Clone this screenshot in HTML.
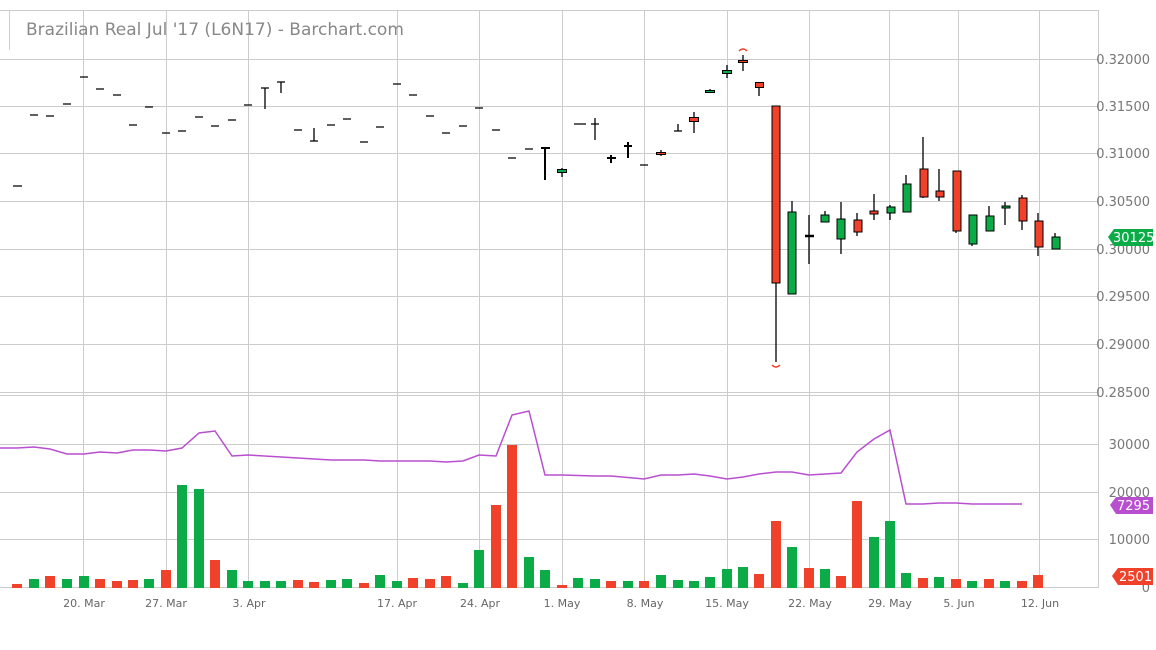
<!DOCTYPE html>
<html><head><meta charset="utf-8"><style>
html,body{margin:0;padding:0;background:#fff;}
svg{display:block;font-family:"DejaVu Sans","Liberation Sans",sans-serif;}
</style></head><body>
<svg width="1156" height="650" viewBox="0 0 1156 650" xmlns="http://www.w3.org/2000/svg">
<g stroke="#cccccc" stroke-width="1" fill="none" shape-rendering="crispEdges">
<line x1="0" y1="10.5" x2="1098" y2="10.5"/>
<line x1="0" y1="59.5" x2="1098" y2="59.5"/>
<line x1="0" y1="106.5" x2="1098" y2="106.5"/>
<line x1="0" y1="153.5" x2="1098" y2="153.5"/>
<line x1="0" y1="201.5" x2="1098" y2="201.5"/>
<line x1="0" y1="249.5" x2="1098" y2="249.5"/>
<line x1="0" y1="296.5" x2="1098" y2="296.5"/>
<line x1="0" y1="344.5" x2="1098" y2="344.5"/>
<line x1="0" y1="392.5" x2="1098" y2="392.5"/>
<line x1="0" y1="395.5" x2="1098" y2="395.5"/>
<line x1="0" y1="444.5" x2="1098" y2="444.5"/>
<line x1="0" y1="492.5" x2="1098" y2="492.5"/>
<line x1="0" y1="539.5" x2="1098" y2="539.5"/>
<line x1="0" y1="587.5" x2="1098" y2="587.5"/>
<line x1="9.5" y1="10" x2="9.5" y2="50"/>
<line x1="83.5" y1="10" x2="83.5" y2="588"/>
<line x1="166.5" y1="10" x2="166.5" y2="588"/>
<line x1="248.5" y1="10" x2="248.5" y2="588"/>
<line x1="397.5" y1="10" x2="397.5" y2="588"/>
<line x1="479.5" y1="10" x2="479.5" y2="588"/>
<line x1="562.5" y1="10" x2="562.5" y2="588"/>
<line x1="644.5" y1="10" x2="644.5" y2="588"/>
<line x1="727.5" y1="10" x2="727.5" y2="588"/>
<line x1="809.5" y1="10" x2="809.5" y2="588"/>
<line x1="889.5" y1="10" x2="889.5" y2="588"/>
<line x1="958.5" y1="10" x2="958.5" y2="588"/>
<line x1="1039.5" y1="10" x2="1039.5" y2="588"/>
<line x1="1098.5" y1="10" x2="1098.5" y2="588"/>
</g>
<text x="26" y="35" font-size="17" fill="#888">Brazilian Real Jul '17 (L6N17) - Barchart.com</text>

<!-- price labels -->
<g font-size="13" fill="#777" text-anchor="end">
<text x="1150" y="64">0.32000</text>
<text x="1150" y="111">0.31500</text>
<text x="1150" y="158">0.31000</text>
<text x="1150" y="206">0.30500</text>
<text x="1150" y="254">0.30000</text>
<text x="1150" y="301">0.29500</text>
<text x="1150" y="349">0.29000</text>
<text x="1150" y="397">0.28500</text>
<text x="1150" y="449">30000</text>
<text x="1150" y="497">20000</text>
<text x="1150" y="544">10000</text>
<text x="1150" y="592">0</text>
</g>
<g font-size="11" fill="#666" text-anchor="middle">
<text x="84" y="607">20. Mar</text>
<text x="166" y="607">27. Mar</text>
<text x="249" y="607">3. Apr</text>
<text x="397" y="607">17. Apr</text>
<text x="480" y="607">24. Apr</text>
<text x="562" y="607">1. May</text>
<text x="645" y="607">8. May</text>
<text x="727" y="607">15. May</text>
<text x="810" y="607">22. May</text>
<text x="890" y="607">29. May</text>
<text x="959" y="607">5. Jun</text>
<text x="1040" y="607">12. Jun</text>
</g>

<!-- flat dashes and wicks -->
<g stroke="#000" stroke-width="1.3" fill="none">
<path d="M13 186h9M30 115h8M46 116h8M63 104h8M80 77h8M96 89h8M113 95h8M129 125h8M145 107h8M162 133h8M178 131h8M195 117h8M211 126h8M228 120h8M244 105h8M261 88h8M265 88v21M277 82h8M281 82v11M294 130h8M310 141h8M314 128v13M327 125h8M343 119h8M360 142h8M376 127h8M393 84h8M409 95h8M426 116h8M442 133h8M459 126h8M475 108h8M492 130h8M508 158h8M525 149h8M578 124h8M574 124h8M591 124h8M595 118v22M640 165h8M674 131h8M678 124v7"/>
<path d="M541 148h9M545 148v32M607 158h9M611 155v8M624 146h8M628 142v16" stroke-width="2"/>
<path d="M562 168v9M661 150v6M694 112v21M710 89v4M727 65v13M743 55v16M759 85v11M776 106v256M792 201v93M809 215v49M825 211v11M841 202v52M857 213v23M874 194v26M890 205v15M906 175v37M923 137v61M939 169v32M956 171v62M972 215v31M989 206v25M1005 202v23M1022 195v35M1038 213v43M1055 233v16"/>
<path d="M805 236h9" stroke-width="2.5"/>
</g>
<!-- bodies -->
<g stroke="#000" stroke-width="1">
<rect x="557.5" y="169.5" width="9" height="3" fill="#0bab47"/>
<rect x="656.5" y="152.5" width="9" height="2" fill="#f0412a"/>
<rect x="689.5" y="117.5" width="9" height="4" fill="#f0412a"/>
<rect x="705.5" y="90.5" width="9" height="2" fill="#0bab47"/>
<rect x="722.5" y="70.5" width="9" height="3" fill="#0bab47"/>
<rect x="738.5" y="60.5" width="9" height="2" fill="#f0412a"/>
<rect x="755.5" y="82.5" width="8" height="5" fill="#f0412a"/>
<rect x="772" y="106" width="8" height="177" fill="#f0412a"/>
<rect x="788" y="212" width="8" height="82" fill="#0bab47"/>
<rect x="821" y="215" width="8" height="7" fill="#0bab47"/>
<rect x="837" y="219" width="8" height="20" fill="#0bab47"/>
<rect x="854" y="220" width="8" height="12" fill="#f0412a"/>
<rect x="870" y="211" width="8" height="3" fill="#f0412a"/>
<rect x="887" y="207" width="8" height="6" fill="#0bab47"/>
<rect x="903" y="184" width="8" height="28" fill="#0bab47"/>
<rect x="920" y="169" width="8" height="28" fill="#f0412a"/>
<rect x="936" y="191" width="8" height="6" fill="#f0412a"/>
<rect x="953" y="171" width="8" height="60" fill="#f0412a"/>
<rect x="969" y="215" width="8" height="29" fill="#0bab47"/>
<rect x="986" y="216" width="8" height="15" fill="#0bab47"/>
<rect x="1002" y="206" width="8" height="2" fill="#0bab47"/>
<rect x="1019" y="198" width="8" height="23" fill="#f0412a"/>
<rect x="1035" y="221" width="8" height="26" fill="#f0412a"/>
<rect x="1052" y="237" width="8" height="12" fill="#0bab47"/>
</g>
<path d="M739 51q4 -4 8 0M772 365q4 4 8 0" stroke="#f0412a" stroke-width="1.5" fill="none"/>

<!-- volume -->
<g fill="#f0412a">
<rect x="12" y="584" width="10" height="4"/><rect x="45" y="576" width="10" height="12"/><rect x="95" y="579" width="10" height="9"/><rect x="112" y="581" width="10" height="7"/><rect x="128" y="580" width="10" height="8"/><rect x="161" y="570" width="10" height="18"/><rect x="210" y="560" width="10" height="28"/><rect x="293" y="580" width="10" height="8"/><rect x="309" y="582" width="10" height="6"/><rect x="359" y="583" width="10" height="5"/><rect x="408" y="578" width="10" height="10"/><rect x="425" y="579" width="10" height="9"/><rect x="441" y="576" width="10" height="12"/><rect x="491" y="505" width="10" height="83"/><rect x="507" y="445" width="10" height="143"/><rect x="557" y="585" width="10" height="3"/><rect x="606" y="581" width="10" height="7"/><rect x="639" y="581" width="10" height="7"/><rect x="754" y="574" width="10" height="14"/><rect x="771" y="521" width="10" height="67"/><rect x="804" y="568" width="10" height="20"/><rect x="836" y="576" width="10" height="12"/><rect x="852" y="501" width="10" height="87"/><rect x="918" y="578" width="10" height="10"/><rect x="951" y="579" width="10" height="9"/><rect x="984" y="579" width="10" height="9"/><rect x="1017" y="581" width="10" height="7"/><rect x="1033" y="575" width="10" height="13"/>
</g>
<g fill="#0bab47">
<rect x="29" y="579" width="10" height="9"/><rect x="62" y="579" width="10" height="9"/><rect x="79" y="576" width="10" height="12"/><rect x="144" y="579" width="10" height="9"/><rect x="177" y="485" width="10" height="103"/><rect x="194" y="489" width="10" height="99"/><rect x="227" y="570" width="10" height="18"/><rect x="243" y="581" width="10" height="7"/><rect x="260" y="581" width="10" height="7"/><rect x="276" y="581" width="10" height="7"/><rect x="326" y="580" width="10" height="8"/><rect x="342" y="579" width="10" height="9"/><rect x="375" y="575" width="10" height="13"/><rect x="392" y="581" width="10" height="7"/><rect x="458" y="583" width="10" height="5"/><rect x="474" y="550" width="10" height="38"/><rect x="524" y="557" width="10" height="31"/><rect x="540" y="570" width="10" height="18"/><rect x="573" y="578" width="10" height="10"/><rect x="590" y="579" width="10" height="9"/><rect x="623" y="581" width="10" height="7"/><rect x="656" y="575" width="10" height="13"/><rect x="673" y="580" width="10" height="8"/><rect x="689" y="581" width="10" height="7"/><rect x="705" y="577" width="10" height="11"/><rect x="722" y="569" width="10" height="19"/><rect x="738" y="567" width="10" height="21"/><rect x="787" y="547" width="10" height="41"/><rect x="820" y="569" width="10" height="19"/><rect x="869" y="537" width="10" height="51"/><rect x="885" y="521" width="10" height="67"/><rect x="901" y="573" width="10" height="15"/><rect x="934" y="577" width="10" height="11"/><rect x="967" y="581" width="10" height="7"/><rect x="1000" y="581" width="10" height="7"/>
</g>
<polyline fill="none" stroke="#b84fcf" stroke-width="1.5" points="0,448 17,448 34,447 50,449 67,454 84,454 100,452 117,453 133,450 149,450 166,451 182,448 199,433 215,431 232,456 248,455 298,458 331,460 364,460 380,461 430,461 446,462 463,461 479,455 496,456 512,415 529,411 545,475 562,475 595,476 611,476 644,479 661,475 678,475 694,474 710,476 727,479 743,477 759,474 776,472 792,472 809,475 841,473 857,452 874,439 890,430 906,504 923,504 939,503 956,503 972,504 1022,504"/>

<!-- badges -->
<g font-size="13" fill="#fff">
<path d="M1108 237l6 -8h39v17h-39z" fill="#0bab47"/><text x="1113" y="242">30125</text>
<path d="M1110 505l6 -8h37v17h-37z" fill="#b84fcf"/><text x="1117" y="510">7295</text>
<path d="M1112 576l6 -8h35v17h-35z" fill="#f0412a"/><text x="1119" y="581">2501</text>
</g>
</svg>
</body></html>
